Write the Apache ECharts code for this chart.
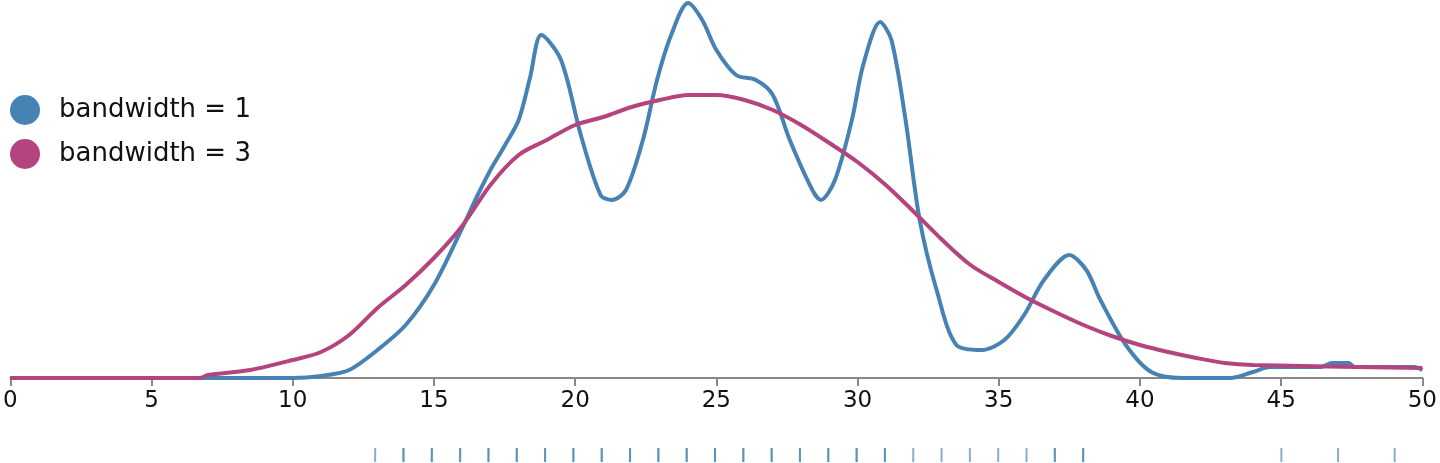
<!DOCTYPE html>
<html>
<head>
    <meta charset="utf-8">
    <style>body{margin:0;background:#fff}</style>
</head>
<body>
    <div id="main" style="width:1440px;height:463px;"></div>
    <script src="https://cdn.jsdelivr.net/npm/echarts@6/dist/echarts.min.js"></script>
    <script>
        // density estimates (arbitrary units)
        var bw1 = [[0,0],[5,0],[10,0],[11,2],[12,8],[13,28],[14,53],[15,93],[16,150],[16.5,180],[17,208],[17.5,232],[18,258],[18.4,300],[18.8,343],[19.5,318],[20.2,243],[20.9,183],[21.3,178],[21.8,188],[22.4,238],[22.9,298],[23.4,343],[24.0,375],[24.5,358],[25.0,328],[25.7,303],[26.4,298],[27.0,283],[27.6,238],[28.4,188],[28.7,178],[29.2,198],[29.8,258],[30.2,313],[30.8,356],[31.2,338],[31.7,258],[32.2,158],[32.8,88],[33.5,33],[34.4,28],[35.2,38],[35.9,63],[36.6,98],[37.5,123],[38.1,108],[38.6,78],[39.5,33],[40.4,6],[41.5,0],[43.2,0],[44,6],[44.6,11],[46.4,11],[46.8,15],[47.4,15],[47.6,11],[49.7,11],[50,8]];
        var bw3 = [[0,0],[6.7,0],[7,3],[8.5,8],[10,18],[11,26],[12,43],[13,70],[14,93],[15,120],[16,152],[17,193],[18,223],[19,238],[20,253],[21,261],[22,271],[23,278],[24,283],[25,283],[26,278],[27,268],[28,253],[29,235],[30,216],[31,193],[32,166],[33,138],[34,113],[35,96],[36,80],[37,66],[38,53],[39,42],[40,33],[41,26],[42,20],[43,15],[44,13],[50,10]];
        var rug = [13,14,14,15,15,16,16,17,17,18,18,19,19,20,20,21,21,22,22,23,23,24,24,25,25,26,26,27,27,28,28,29,29,30,30,31,31,32,33,34,35,36,37,37,38,38,45,47,49];
        var xTicks = [0,5,10,15,20,25,30,35,40,45,50];

        var blue = '#4682b4', red = '#b5437e';
        var myChart = echarts.init(document.getElementById('main'));
        var font = 'DejaVu Sans';
        var option = {
            animation: false,
            textStyle: { fontFamily: font },
            legend: {
                orient: 'vertical', left: 5, top: 90, itemGap: 14,
                icon: 'circle', itemWidth: 30, itemHeight: 30,
                textStyle: { fontSize: 26, color: '#111', fontFamily: font, padding: [0, 0, 0, 14] },
                data: ['bandwidth = 1', 'bandwidth = 3']
            },
            grid: [
                { left: 7, right: 17, top: 3, bottom: 85 },
                { left: 7, right: 17, top: 448, height: 14 }
            ],
            xAxis: [
                {
                    type: 'value', min: 0, max: 50, interval: 5,
                    axisLine: { lineStyle: { color: '#888', width: 2 } },
                    axisTick: { length: 8, lineStyle: { color: '#888', width: 2 } },
                    axisLabel: { fontSize: 23, color: '#111', margin: 12, fontFamily: font,
                        formatter: function (v) { return xTicks.indexOf(v) >= 0 ? v : ''; } },
                    splitLine: { show: false }
                },
                { gridIndex: 1, type: 'value', min: 0, max: 50, show: false }
            ],
            yAxis: [
                { type: 'value', min: 0, max: 375, show: false },
                { gridIndex: 1, type: 'value', min: 0, max: 1, show: false }
            ],
            series: [
                { name: 'bandwidth = 1', type: 'line', data: bw1, smooth: 0.3, showSymbol: false,
                  itemStyle: { color: blue }, lineStyle: { color: blue, width: 4 } },
                { name: 'bandwidth = 3', type: 'line', data: bw3, smooth: 0.3, showSymbol: false,
                  itemStyle: { color: red }, lineStyle: { color: red, width: 4 } },
                { type: 'scatter', xAxisIndex: 1, yAxisIndex: 1, symbol: 'rect', symbolSize: [2, 14],
                  data: rug.map(function (v) { return [v, 0.5]; }),
                  itemStyle: { color: blue, opacity: 0.65 }, silent: true }
            ]
        };
        myChart.setOption(option);
    </script>
</body>
</html>
